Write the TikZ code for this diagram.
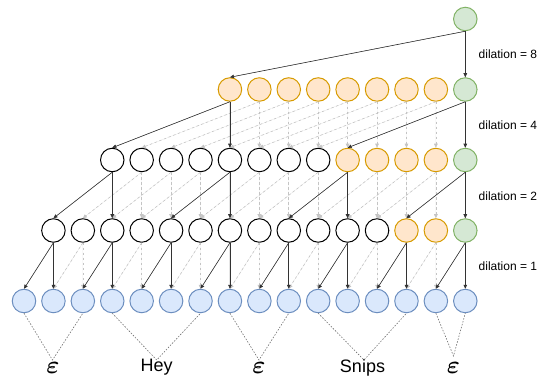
\documentclass[tikz,border=0pt]{standalone}
\usepackage{amsmath}
\usepackage{bm}
\usepackage{fontspec}
\setmainfont{Liberation Sans}
\usetikzlibrary{arrows.meta}
\definecolor{bluefill}{HTML}{DAE8FC}
\definecolor{bluedraw}{HTML}{6C8EBF}
\definecolor{orfill}{HTML}{FFE6CC}
\definecolor{ordraw}{HTML}{D79B00}
\definecolor{grfill}{HTML}{D5E8D4}
\definecolor{grdraw}{HTML}{82B366}
\definecolor{dashgray}{HTML}{C4C4C4}
\definecolor{solidgray}{HTML}{333333}
\definecolor{labgray}{HTML}{707070}
\begin{document}
\begin{tikzpicture}[x=1pt, y={(0pt,-1pt)},
  cell/.style={circle, minimum size=23.5pt, inner sep=0pt, line width=1pt},
  bcell/.style={cell, fill=bluefill, draw=bluedraw},
  ocell/.style={cell, fill=orfill, draw=ordraw},
  gcell/.style={cell, fill=grfill, draw=grdraw},
  kcell/.style={cell, fill=white, draw=black},
  solidarr/.style={-{Triangle[length=4pt,width=3.6pt]}, line width=0.6pt, draw=solidgray, fill=solidgray},
  dasharr/.style={-{Triangle[length=4pt,width=3.6pt]}, line width=0.6pt, draw=dashgray, fill=dashgray, dash pattern=on 2.5pt off 2.5pt},
  lablink/.style={line width=0.6pt, draw=labgray, dash pattern=on 1.5pt off 1.5pt},
  dil/.style={anchor=west, inner sep=0pt, font=\fontsize{12}{14}\selectfont},
  word/.style={inner sep=0pt, font=\fontsize{18}{20}\selectfont},
  eps/.style={inner sep=0pt, font=\fontsize{23}{25}\selectfont}
]
\useasboundingbox (0,0) rectangle (543,379);
% row 5 (blue inputs)
\foreach \i in {0,...,15} \node[bcell] (r5-\i) at ({24+29.42*\i},301) {};
% row 4
\foreach \i in {1,...,12} \node[kcell] (r4-\i) at ({24+29.42*\i},230.5) {};
\foreach \i in {13,14} \node[ocell] (r4-\i) at ({24+29.42*\i},230.5) {};
\node[gcell] (r4-15) at ({24+29.42*15},230.5) {};
% row 3
\foreach \i in {3,...,10} \node[kcell] (r3-\i) at ({24+29.42*\i},160) {};
\foreach \i in {11,...,14} \node[ocell] (r3-\i) at ({24+29.42*\i},160) {};
\node[gcell] (r3-15) at ({24+29.42*15},160) {};
% row 2
\foreach \i in {7,...,14} \node[ocell] (r2-\i) at ({24+29.42*\i},89.5) {};
\node[gcell] (r2-15) at ({24+29.42*15},89.5) {};
% row 1
\node[gcell] (r1-15) at ({24+29.42*15},19) {};

% dashed connections
\foreach \i [evaluate=\i as \j using int(\i-1)] in {2,4,...,14} {
  \draw[dasharr] (r4-\i.south) -- (r5-\i.north);
  \draw[dasharr] (r4-\i.south) -- (r5-\j.north);
}
\foreach \i [evaluate=\i as \j using int(\i-2)] in {4,5,6,8,9,10,12,13,14} {
  \draw[dasharr] (r3-\i.south) -- (r4-\i.north);
  \draw[dasharr] (r3-\i.south) -- (r4-\j.north);
}
\foreach \i [evaluate=\i as \j using int(\i-4)] in {8,...,14} {
  \draw[dasharr] (r2-\i.south) -- (r3-\i.north);
  \draw[dasharr] (r2-\i.south) -- (r3-\j.north);
}
% solid connections
\foreach \i [evaluate=\i as \j using int(\i-1)] in {1,3,...,15} {
  \draw[solidarr] (r4-\i.south) -- (r5-\i.north);
  \draw[solidarr] (r4-\i.south) -- (r5-\j.north);
}
\foreach \i [evaluate=\i as \j using int(\i-2)] in {3,7,11,15} {
  \draw[solidarr] (r3-\i.south) -- (r4-\i.north);
  \draw[solidarr] (r3-\i.south) -- (r4-\j.north);
}
\foreach \i [evaluate=\i as \j using int(\i-4)] in {7,15} {
  \draw[solidarr] (r2-\i.south) -- (r3-\i.north);
  \draw[solidarr] (r2-\i.south) -- (r3-\j.north);
}
\draw[solidarr] (r1-15.south) -- (r2-15.north);
\draw[solidarr] (r1-15.south) -- (r2-7.north);

% dilation labels
\node[dil] (d8) at (478.5,54.5) {dilation = 8};
\node[dil] (d4) at (478.5,125.5) {dilation = 4};
\node[dil] (d2) at (478.5,196) {dilation = 2};
\node[dil] (d1) at (478.5,266.5) {dilation = 1};

% bottom labels
\node[eps] (e1) at (53,368) {$\bm{\varepsilon}$};
\node[word] (hey) at (156.7,367.5) {Hey};
\node[eps] (e2) at (259,368) {$\bm{\varepsilon}$};
\node[word] (snips) at (362.5,367.5) {Snips};
\node[eps] (e3) at (453.5,368) {$\bm{\varepsilon}$};
\coordinate (m1) at (52.5,360);
\coordinate (m2) at (156.7,360);
\coordinate (m3) at (259,360);
\coordinate (m4) at (364,360);
\coordinate (m5) at (453.5,356);
\draw[lablink] (r5-0.south) -- (m1) -- (r5-2.south);
\draw[lablink] (r5-3.south) -- (m2) -- (r5-6.south);
\draw[lablink] (r5-7.south) -- (m3) -- (r5-9.south);
\draw[lablink] (r5-10.south) -- (m4) -- (r5-13.south);
\draw[lablink] (r5-14.south) -- (m5) -- (r5-15.south);
\end{tikzpicture}
\end{document}
